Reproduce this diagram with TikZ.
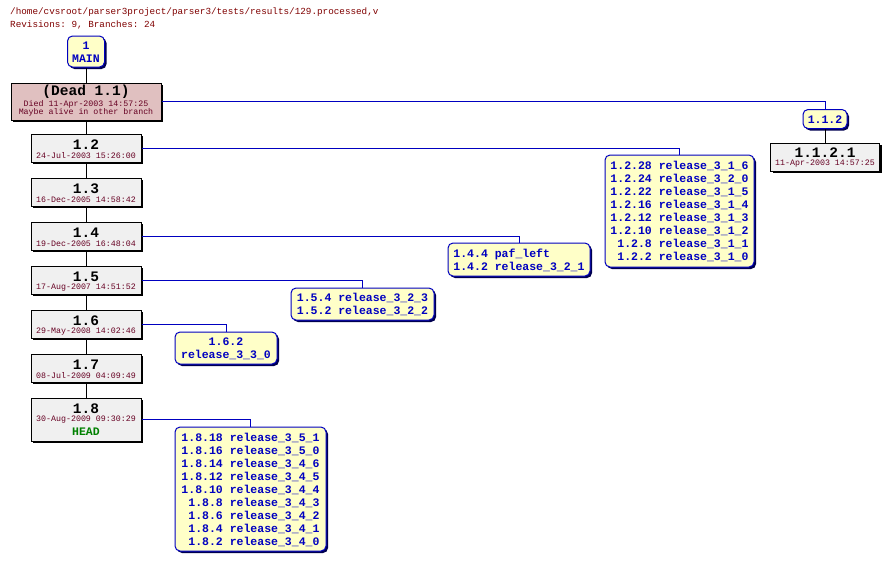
\documentclass[tikz,border=0pt]{standalone}
\usepackage{fontspec}
\setmonofont{Liberation Mono}
\usetikzlibrary{shadows}
\definecolor{hdr}{RGB}{128,0,0}
\definecolor{datec}{RGB}{102,0,34}
\definecolor{brblue}{RGB}{0,0,192}
\definecolor{yel}{RGB}{255,255,200}
\definecolor{revgray}{RGB}{240,240,240}
\definecolor{deadfill}{RGB}{224,192,192}
\definecolor{headg}{RGB}{0,128,0}
\definecolor{brshadow}{RGB}{0,0,80}
\newcommand\brfnt{\ttfamily\bfseries\fontsize{11.5}{13}\selectfont}
\newcommand\revfnt{\ttfamily\bfseries\fontsize{14.5}{16}\selectfont}
\newcommand\datefnt{\ttfamily\fontsize{8.3}{8}\selectfont}
\newcommand\hdrfnt{\ttfamily\fontsize{9.3}{13}\selectfont}
\newcommand\brtab[2]{\raisebox{-1.5pt}[\height][\depth]{\begin{tabular}{@{}#1@{}}#2\end{tabular}}}
\tikzset{
  revbox/.style={draw=black, line width=1pt, fill=revgray, minimum width=110pt, minimum height=28pt, inner sep=0pt,
    drop shadow={shadow xshift=2pt, shadow yshift=-2pt, fill=black, opacity=1}},
  deadbox/.style={revbox, fill=deadfill, minimum width=150pt, minimum height=37pt},
  brbox/.style={draw=brblue, line width=1pt, fill=yel, rounded corners=5pt, text=brblue, font=\brfnt, inner sep=0pt,
    drop shadow={shadow xshift=2pt, shadow yshift=-2pt, fill=brshadow, opacity=1}},
  revnum/.style={font=\revfnt, text=black, inner sep=0pt},
  datetxt/.style={font=\datefnt, text=datec, inner sep=0pt},
  headtxt/.style={font=\brfnt, text=headg, inner sep=0pt},
  hdrtxt/.style={font=\hdrfnt, text=hdr, inner sep=0pt, anchor=west},
  trunk/.style={draw=black, line width=1pt},
  brline/.style={draw=brblue, line width=1pt},
}
\begin{document}
\begin{tikzpicture}[x=1pt,y=-1pt]
\useasboundingbox[fill=white] (0,0) rectangle (889,560);
% header
\node[hdrtxt] (h1) at (10,12) {/home/cvsroot/parser3project/parser3/tests/results/129.processed,v};
\node[hdrtxt] (h2) at (10,25) {Revisions: 9, Branches: 24};
% trunk
\node[brbox, minimum width=37pt, minimum height=31pt] (main) at (86,51.5) {\brtab{c}{1\\MAIN}};
\node[deadbox] (dead) at (86,101.5) {};
\node[font=\revfnt, inner sep=0pt] (deadn) at (86,92) {(Dead 1.1)};
\node[datetxt] (deadd) at (86,104) {Died 11-Apr-2003 14:57:25};
\node[datetxt] (deadm) at (86,112) {Maybe alive in other branch};

\foreach \nm/\yy in {12/148, 13/192, 14/236, 15/280, 16/324, 17/368}{
  \node[revbox] (r\nm) at (86,\yy) {};
}
\node[revnum] (r12n) at (86,144.5) {1.2};   \node[datetxt] (r12d) at (86,155.5) {24-Jul-2003 15:26:00};
\node[revnum] (r13n) at (86,188.5) {1.3};   \node[datetxt] (r13d) at (86,199.5) {16-Dec-2005 14:58:42};
\node[revnum] (r14n) at (86,232.5) {1.4};   \node[datetxt] (r14d) at (86,243.5) {19-Dec-2005 16:48:04};
\node[revnum] (r15n) at (86,276.5) {1.5};   \node[datetxt] (r15d) at (86,287.5) {17-Aug-2007 14:51:52};
\node[revnum] (r16n) at (86,320.5) {1.6};   \node[datetxt] (r16d) at (86,331.5) {29-May-2008 14:02:46};
\node[revnum] (r17n) at (86,364.5) {1.7};   \node[datetxt] (r17d) at (86,375.5) {08-Jul-2009 04:09:49};

\node[revbox, minimum height=43pt] (r18) at (86,419.5) {};
\node[revnum] (r18n) at (86,408.5) {1.8};
\node[datetxt] (r18d) at (86,420) {30-Aug-2009 09:30:29};
\node[headtxt] (r18h) at (86,431.5) {HEAD};

% branch 1.1.2
\node[brbox, minimum width=44pt, minimum height=19pt] (b11) at (825,119) {\brtab{c}{1.1.2}};
\node[revbox, minimum width=109pt] (r1121) at (825,157) {};
\node[revnum] (r1121n) at (825,153) {1.1.2.1};
\node[datetxt] (r1121d) at (825,164) {11-Apr-2003 14:57:25};

% branch boxes
\node[brbox, minimum width=149pt, minimum height=112pt] (b12) at (679.5,211) {\brtab{r@{\ }l}{%
1.2.28 & release\_3\_1\_6\\
1.2.24 & release\_3\_2\_0\\
1.2.22 & release\_3\_1\_5\\
1.2.16 & release\_3\_1\_4\\
1.2.12 & release\_3\_1\_3\\
1.2.10 & release\_3\_1\_2\\
1.2.8 & release\_3\_1\_1\\
1.2.2 & release\_3\_1\_0}};
\node[brbox, minimum width=142pt, minimum height=33pt] (b14) at (519,259.5) {\brtab{r@{\ }l}{%
1.4.4 & paf\_left\\
1.4.2 & release\_3\_2\_1}};
\node[brbox, minimum width=143pt, minimum height=32pt] (b15) at (362.5,304) {\brtab{r@{\ }l}{%
1.5.4 & release\_3\_2\_3\\
1.5.2 & release\_3\_2\_2}};
\node[brbox, minimum width=102pt, minimum height=32pt] (b16) at (226,348) {\brtab{c}{1.6.2\\release\_3\_3\_0}};
\node[brbox, minimum width=151pt, minimum height=124pt] (b18) at (250.5,489) {\brtab{r@{\ }l}{%
1.8.18 & release\_3\_5\_1\\
1.8.16 & release\_3\_5\_0\\
1.8.14 & release\_3\_4\_6\\
1.8.12 & release\_3\_4\_5\\
1.8.10 & release\_3\_4\_4\\
1.8.8 & release\_3\_4\_3\\
1.8.6 & release\_3\_4\_2\\
1.8.4 & release\_3\_4\_1\\
1.8.2 & release\_3\_4\_0}};

% trunk connectors
\draw[trunk] (main) -- (dead);
\draw[trunk] (dead) -- (r12);
\draw[trunk] (r12) -- (r13);
\draw[trunk] (r13) -- (r14);
\draw[trunk] (r14) -- (r15);
\draw[trunk] (r15) -- (r16);
\draw[trunk] (r16) -- (r17);
\draw[trunk] (r17) -- (r18);
\draw[trunk] (b11) -- (r1121);
% branch connectors
\draw[brline] (dead.east) -| (b11.north);
\draw[brline] (r12.east) -| (b12.north);
\draw[brline] (r14.east) -| (b14.north);
\draw[brline] (r15.east) -| (b15.north);
\draw[brline] (r16.east) -| (b16.north);
\draw[brline] (r18.east) -| (b18.north);
\end{tikzpicture}
\end{document}
